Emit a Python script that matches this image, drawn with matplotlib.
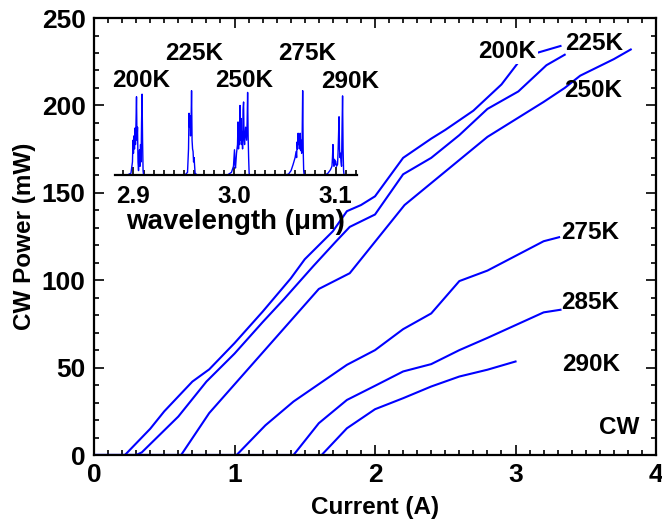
import matplotlib
matplotlib.use("Agg")
import matplotlib.pyplot as plt
from matplotlib.ticker import MultipleLocator

plt.rcParams['font.family'] = ['Liberation Sans', 'DejaVu Sans']
plt.rcParams['font.weight'] = 'bold'

# CW power vs current, one curve per heat-sink temperature
i_200 = [0, 0.22, 0.4, 0.5, 0.7, 0.82, 1.0, 1.2, 1.4, 1.5, 1.6, 1.7, 1.8, 1.9, 2.0, 2.2, 2.4, 2.5, 2.7, 2.9, 3.02, 3.15, 3.32]
p_200 = [0, 0, 15, 25, 42, 49, 64, 82, 101, 112, 120, 128, 139.5, 143, 148, 170, 181, 186, 197, 212, 224.6, 230, 234]

i_225 = [0, 0.3, 0.34, 0.6, 0.8, 1.0, 1.2, 1.35, 1.56, 1.72, 1.82, 2.0, 2.2, 2.4, 2.6, 2.8, 3.02, 3.22, 3.35]
p_225 = [0, 0, 1.5, 22, 42, 58, 76, 89, 108, 122, 130.5, 137.6, 160.6, 170, 183, 198, 208, 223, 229]

i_250 = [0, 0.62, 0.82, 1.6, 1.82, 2.21, 2.8, 3.0, 3.2, 3.35, 3.46, 3.7, 3.82]
p_250 = [0, 0, 24, 95, 104, 143, 182, 192, 202, 210, 217, 226.5, 232]

i_275 = [0, 1.015, 1.22, 1.42, 1.8, 2.0, 2.2, 2.4, 2.6, 2.8, 3.2, 3.31]
p_275 = [0, 0, 17, 30.6, 51.6, 60, 72, 81, 99.5, 105.5, 122.3, 124.6]

i_285 = [0, 1.42, 1.6, 1.8, 2.0, 2.2, 2.4, 2.6, 2.8, 3.2, 3.32]
p_285 = [0, 0, 18.2, 31.5, 39.6, 47.8, 52, 60, 67, 81.6, 83.1]

i_290 = [0, 1.62, 1.8, 2.0, 2.2, 2.4, 2.6, 2.8, 3.0]
p_290 = [0, 0, 15.3, 26.2, 32.5, 39.2, 44.9, 48.8, 53.5]

curve_labels = ['200K', '225K', '250K', '275K', '285K', '290K']
label_x = [2.94, 3.56, 3.55, 3.53, 3.53, 3.54]
label_y = [231, 235.5, 208.5, 127.5, 87.5, 52]

# inset: lasing spectra (normalized intensity)
lam_200 = [2.894, 2.8975, 2.899, 2.8995, 2.9, 2.9005, 2.901, 2.9015, 2.902, 2.9025, 2.903, 2.9035, 2.904, 2.9045, 2.905,
           2.9055, 2.906, 2.9065, 2.907, 2.9075, 2.908, 2.9085, 2.909, 2.9095, 2.910, 2.913]
int_200 = [0, 0.02, 0.15, 0.40, 0.25, 0.45, 0.30, 0.54, 0.35, 0.60, 0.90, 0.40, 0.55, 0.15, 0.05,
           0.20, 0.29, 0.10, 0.35, 0.15, 0.60, 0.93, 0.40, 0.05, 0.0, 0]
lam_225 = [2.951, 2.9535, 2.9545, 2.955, 2.9555, 2.956, 2.9565, 2.957, 2.9575, 2.958, 2.9585, 2.959, 2.9595, 2.960, 2.961, 2.963]
int_225 = [0, 0.03, 0.30, 0.71, 0.55, 0.68, 0.45, 0.60, 0.97, 0.40, 0.30, 0.27, 0.15, 0.20, 0.02, 0]
lam_250 = [2.993, 2.997, 2.999, 3.0, 3.0005, 3.001, 3.002, 3.003, 3.0035, 3.004, 3.0045, 3.005, 3.0055, 3.006, 3.0065,
           3.007, 3.0075, 3.008, 3.0085, 3.009, 3.0095, 3.010, 3.011, 3.012, 3.0125, 3.013, 3.0135, 3.014, 3.0145, 3.015, 3.018]
int_250 = [0, 0.03, 0.10, 0.29, 0.12, 0.08, 0.25, 0.35, 0.61, 0.30, 0.55, 0.35, 0.80, 0.40, 0.65,
           0.35, 0.50, 0.30, 0.75, 0.84, 0.40, 0.35, 0.55, 0.40, 0.60, 0.95, 0.45, 0.20, 0.02, 0, 0]
lam_275 = [3.05, 3.0535, 3.056, 3.058, 3.060, 3.061, 3.0615, 3.062, 3.0625, 3.063, 3.0635, 3.064, 3.0645, 3.065, 3.0655,
           3.066, 3.0665, 3.067, 3.0675, 3.068, 3.0685, 3.069, 3.072]
int_275 = [0, 0.01, 0.05, 0.12, 0.20, 0.27, 0.20, 0.38, 0.30, 0.48, 0.35, 0.45, 0.30, 0.48, 0.28,
           0.40, 0.25, 0.45, 0.97, 0.30, 0.05, 0, 0]
lam_290 = [3.09, 3.0925, 3.095, 3.0965, 3.097, 3.0975, 3.098, 3.0985, 3.099, 3.0995, 3.100, 3.101, 3.102, 3.1025, 3.103,
           3.1035, 3.104, 3.1045, 3.105, 3.1055, 3.106, 3.1065, 3.107, 3.1075, 3.108, 3.1085, 3.111]
int_290 = [0, 0.02, 0.06, 0.10, 0.20, 0.35, 0.15, 0.10, 0.18, 0.12, 0.16, 0.10, 0.12, 0.25, 0.45,
           0.67, 0.30, 0.20, 0.25, 0.15, 0.10, 0.55, 0.91, 0.30, 0.05, 0, 0]

inset_labels = ['200K', '225K', '250K', '275K', '290K']
inset_lx = [2.908, 2.960, 3.010, 3.072, 3.1143]
inset_ly = [1.09, 1.40, 1.09, 1.40, 1.07]

blue = '#0000ff'
fs = 17.5

fig = plt.figure(figsize=(6.62, 5.27), dpi=100)
ax = fig.add_axes([0.142, 0.1366, 0.849, 0.8292])

for xs, ys in [(i_200, p_200), (i_225, p_225), (i_250, p_250), (i_275, p_275), (i_285, p_285), (i_290, p_290)]:
    ax.plot(xs, ys, color=blue, lw=1.5, solid_joinstyle='round')

for lab, lx, ly in zip(curve_labels, label_x, label_y):
    t = ax.text(lx, ly, lab, fontsize=fs, fontweight='bold', ha='center', va='center')
    if lab == '200K':
        t.set_bbox(dict(fc='white', ec='none', pad=1))
ax.text(3.74, 16, 'CW', fontsize=fs, fontweight='bold', ha='center', va='center')

ax.set_xlim(0, 4)
ax.set_ylim(0, 250)
ax.xaxis.set_major_locator(MultipleLocator(1))
ax.xaxis.set_minor_locator(MultipleLocator(0.1))
ax.yaxis.set_major_locator(MultipleLocator(50))
ax.yaxis.set_minor_locator(MultipleLocator(10))
ax.tick_params(which='both', direction='in', top=True, right=True, width=1.2, labelsize=19)
ax.tick_params(which='major', length=7, pad=6)
ax.tick_params(which='minor', length=3.5)
for s in ax.spines.values():
    s.set_linewidth(1.6)
ax.set_xlabel('Current (A)', fontsize=fs, fontweight='bold', labelpad=6)
ax.set_ylabel('CW Power (mW)', fontsize=fs, fontweight='bold', labelpad=4)

# inset spectra
ins = fig.add_axes([0.1737, 0.668, 0.3656, 0.2638])
ins.patch.set_alpha(0)
for xs, ys in [(lam_200, int_200), (lam_225, int_225), (lam_250, int_250), (lam_275, int_275), (lam_290, int_290)]:
    ins.plot(xs, ys, color=blue, lw=1.0)
for lab, lx, ly in zip(inset_labels, inset_lx, inset_ly):
    ins.text(lx, ly, lab, fontsize=fs, fontweight='bold', ha='center', va='center')
ins.set_xlim(2.8817, 3.1213)
ins.set_ylim(0, 1.6)
for side in ['top', 'left', 'right']:
    ins.spines[side].set_visible(False)
ins.spines['bottom'].set_linewidth(1.6)
ins.set_yticks([])
ins.xaxis.set_major_locator(MultipleLocator(0.1))
ins.xaxis.set_minor_locator(MultipleLocator(0.01))
ins.xaxis.set_major_formatter(plt.FuncFormatter(lambda v, p: '%.1f' % v))
ins.tick_params(which='both', direction='in', width=1.2, labelsize=fs)
ins.tick_params(which='major', length=6, pad=7)
ins.tick_params(which='minor', length=3.5)
ins.set_xlabel('wavelength (\u03bcm)', fontsize=20, fontweight='bold', labelpad=1)

fig.savefig('out.png', dpi=100)
